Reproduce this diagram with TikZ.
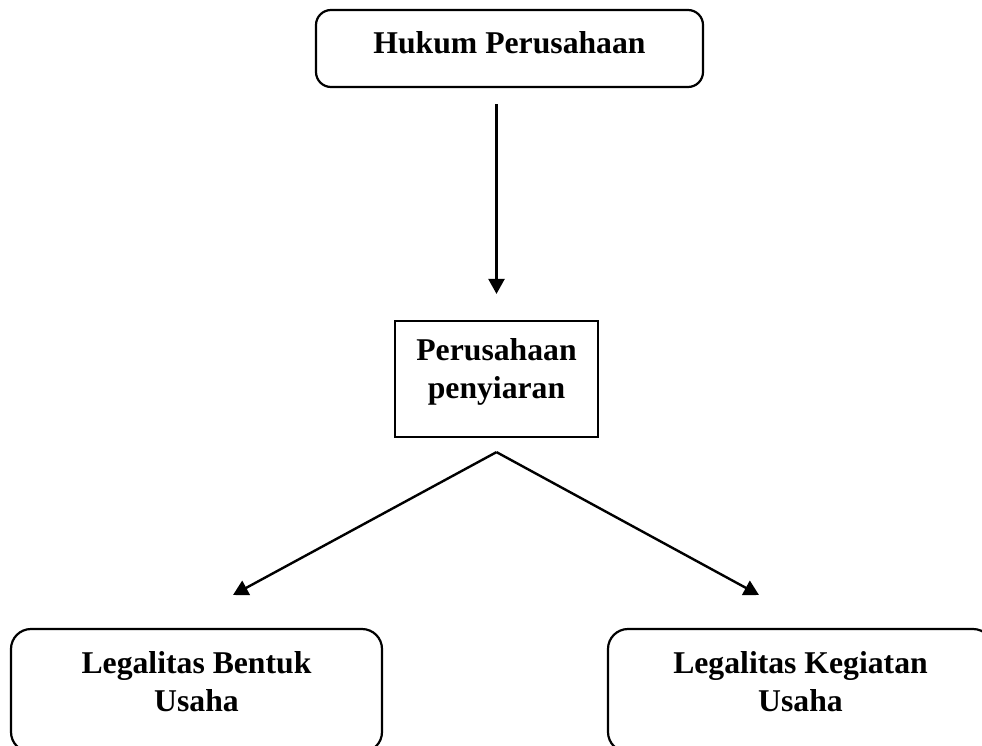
\documentclass[tikz,border=0pt]{standalone}
\usepackage{fontspec}
\setmainfont{Liberation Serif}
\usetikzlibrary{arrows.meta}
\begin{document}
\begin{tikzpicture}[x=1pt,y=-1pt,
  boxline/.style={draw=black,line width=2.2pt},
  rbox/.style={boxline,rounded corners=#1,inner sep=0pt},
  sbox/.style={boxline,inner sep=0pt},
  lbl/.style={inner sep=0pt,align=center,font=\fontsize{31.7}{38}\selectfont\bfseries},
  conn/.style={draw=black,line width=2.4pt,-{Triangle[length=15pt,width=16pt]}}]
\useasboundingbox (0,0) rectangle (982,745);
\clip (0,0) rectangle (982,745);
% boxes
\node[rbox=15pt,minimum width=387pt,minimum height=77pt] (top) at (509.5,48.5) {};
\node[sbox,minimum width=203pt,minimum height=116pt] (mid) at (496.5,379) {};
\node[rbox=20pt,minimum width=371pt,minimum height=123pt] (left) at (196.5,690.5) {};
\node[rbox=20pt,minimum width=385pt,minimum height=123pt] (right) at (800.5,690.5) {};
% labels
\node[lbl] (ttop) at (509.5,42.3) {Hukum Perusahaan};
\node[lbl] (tmid) at (496.5,372) {Perusahaan\\penyiaran};
\node[lbl] (tleft) at (196.5,682) {Legalitas Bentuk\\Usaha};
\node[lbl] (tright) at (800.5,682) {Legalitas Kegiatan\\Usaha};
% connectors
\draw[conn,shorten <=16pt,shorten >=26pt] (mid.north |- top.south) -- (mid.north);
\coordinate (apex) at ([yshift=-14pt]mid.south);
\coordinate (tipL) at (233,595);
\coordinate (tipR) at (759,595);
\draw[conn] (apex) -- (tipL);
\draw[conn] (apex) -- (tipR);
\end{tikzpicture}
\end{document}
